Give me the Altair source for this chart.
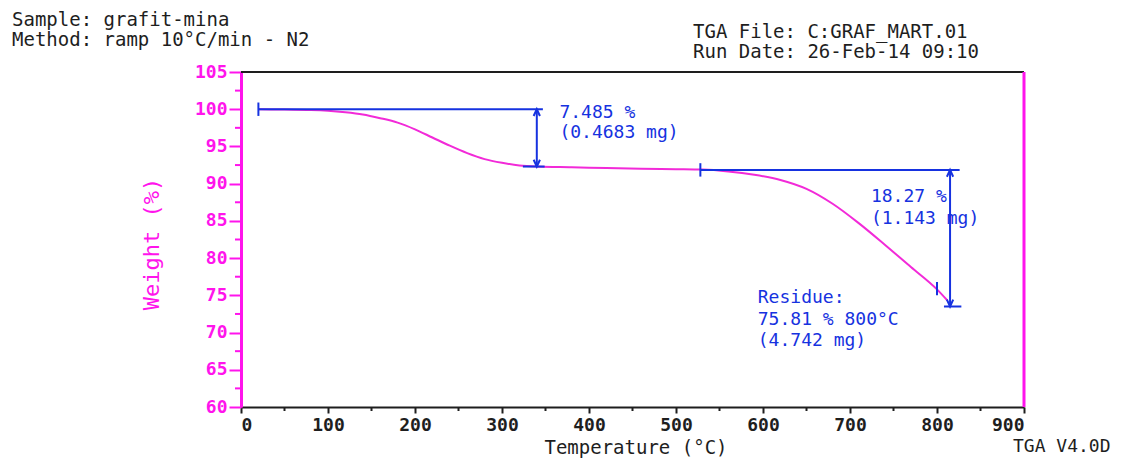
import altair as alt
import pandas as pd

# ---- data ----
temp_c = [20, 50, 80, 100, 120, 140, 160, 180, 200, 220, 240, 260, 280, 300, 320, 340,
          380, 420, 460, 500, 530, 560, 590, 620, 650, 680, 710, 740, 770, 800, 812]
weight_pct = [100.0, 99.95, 99.9, 99.8, 99.6, 99.3, 98.8, 98.2, 97.3, 96.2, 95.1, 94.1, 93.3, 92.8, 92.45, 92.3,
              92.2, 92.1, 92.0, 91.95, 91.9, 91.65, 91.2, 90.5, 89.3, 87.3, 84.7, 81.8, 78.8, 75.8, 74.3]

x_ticks = [0, 100, 200, 300, 400, 500, 600, 700, 800, 900]
y_ticks = [60, 65, 70, 75, 80, 85, 90, 95, 100, 105]
x_minor = [50, 150, 250, 350, 450, 550, 650, 750, 850]
y_minor = [62.5, 67.5, 72.5, 77.5, 82.5, 87.5, 92.5, 97.5, 102.5]

# step annotations
step_start = [20, 528]
step_arrow_t = [340, 815]
step_top = [100.0, 91.85]
step_bottom = [92.3, 73.5]
step_line_end = [347, 826]
step_bottom_from = [324, 808]
step_bottom_to = [349, 828]

ann_t = [366, 366, 724, 724, 594, 594, 594]
ann_w = [99.45, 96.8, 88.2, 85.3, 74.6, 71.7, 68.9]
ann_text = ["7.485 %", "(0.4683 mg)", "18.27 %", "(1.143 mg)", "Residue:", "75.81 % 800°C", "(4.742 mg)"]

MAG = "#ff14ec"
CURVE = "#f22ad8"
BLUE = "#1632e0"
INK = "#1e1e1e"
FONT = "DejaVu Sans Mono"

W, H = 783, 335

xs = alt.Scale(domain=[0, 900], nice=False, zero=False)
ys = alt.Scale(domain=[60, 105], nice=False, zero=False)
xaxis = alt.Axis(values=x_ticks, title=None, grid=False, labelFont=FONT, labelFontSize=18,
                 labelColor=INK, domainColor=INK, domainWidth=2, tickColor=INK, tickWidth=2,
                 tickSize=6, labelPadding=3, labelFontWeight="bold")
yaxis = alt.Axis(values=y_ticks, title=None, grid=False, labelFont=FONT, labelFontSize=18,
                 labelColor=MAG, domainColor=MAG, domainWidth=3, tickColor=MAG, tickWidth=2,
                 tickSize=12, labelPadding=2, labelFontWeight="bold")


def X(f):
    return alt.X(f, type="quantitative", scale=xs, axis=xaxis)


def Y(f):
    return alt.Y(f, type="quantitative", scale=ys, axis=yaxis)


curve_df = pd.DataFrame({"t": temp_c, "w": weight_pct})
curve = alt.Chart(curve_df).mark_line(color=CURVE, strokeWidth=2, interpolate="monotone").encode(
    x=X("t"), y=Y("w"))

# frame: top (black) and right (magenta)
top_df = pd.DataFrame({"t": [0], "t2": [900], "w": [105]})
top = alt.Chart(top_df).mark_rule(color=INK, strokeWidth=2).encode(x=X("t"), x2="t2", y=Y("w"))
right_df = pd.DataFrame({"t": [900], "w": [60], "w2": [105]})
right = alt.Chart(right_df).mark_rule(color=MAG, strokeWidth=3).encode(x=X("t"), y=Y("w"), y2="w2")

# minor ticks
yminor = alt.Chart(pd.DataFrame({"w": y_minor})).mark_rule(color=MAG, strokeWidth=2).encode(
    y=Y("w"), x=alt.value(-6), x2=alt.value(0))
xminor = alt.Chart(pd.DataFrame({"t": x_minor})).mark_rule(color=INK, strokeWidth=2).encode(
    x=X("t"), y=alt.value(H), y2=alt.value(H + 4))

# step annotation lines
steps = pd.DataFrame({
    "start": step_start, "arrow": step_arrow_t, "top": step_top, "bottom": step_bottom,
    "end": step_line_end, "bfrom": step_bottom_from, "bto": step_bottom_to,
})
steps["cap_lo"] = steps["top"] - 0.9
steps["cap_hi"] = steps["top"] + 0.9
hline = alt.Chart(steps).mark_rule(color=BLUE, strokeWidth=2).encode(x=X("start"), x2="end", y=Y("top"))
cap = alt.Chart(steps).mark_rule(color=BLUE, strokeWidth=2).encode(x=X("start"), y=Y("cap_lo"), y2="cap_hi")
vline = alt.Chart(steps).mark_rule(color=BLUE, strokeWidth=2).encode(x=X("arrow"), y=Y("top"), y2="bottom")
bline = alt.Chart(steps).mark_rule(color=BLUE, strokeWidth=2).encode(x=X("bfrom"), x2="bto", y=Y("bottom"))

UP = "M-0.6,1.3L0,0L0.6,1.3"
DOWN = "M-0.6,-1.3L0,0L0.6,-1.3"
heads = pd.DataFrame({
    "t": step_arrow_t + step_arrow_t,
    "w": step_top + step_bottom,
    "shape": [UP, UP, DOWN, DOWN],
})
arrows = alt.Chart(heads).mark_point(color=BLUE, filled=False, strokeWidth=2, size=110, opacity=1).encode(
    x=X("t"), y=Y("w"), shape=alt.Shape("shape:N", scale=None))

# 800 °C marker on the curve
mark_df = pd.DataFrame({"t": [800], "w": [75.0], "w2": [76.8]})
marker = alt.Chart(mark_df).mark_rule(color=BLUE, strokeWidth=2).encode(x=X("t"), y=Y("w"), y2="w2")

ann = alt.Chart(pd.DataFrame({"t": ann_t, "w": ann_w, "label": ann_text})).mark_text(
    align="left", baseline="middle", font=FONT, fontSize=18, color=BLUE).encode(
    x=X("t"), y=Y("w"), text="label:N")

# header / titles (pixel positions relative to the plot area)
hdr = pd.DataFrame({
    "label": ["Sample: grafit-mina", "Method: ramp 10°C/min - N2",
              "TGA File: C:GRAF_MART.01", "Run Date: 26-Feb-14 09:10"],
    "px": [-229, -229, 452, 452],
    "py": [-52, -32, -40, -20],
})
header = alt.Chart(hdr).mark_text(align="left", baseline="middle", font=FONT, fontSize=19,
                                  color=INK).encode(
    x=alt.X("px:Q", scale=None), y=alt.Y("py:Q", scale=None), text="label:N")

xtitle = alt.Chart(pd.DataFrame({"label": ["Temperature (°C)"]})).mark_text(
    align="center", baseline="middle", font=FONT, fontSize=19, color=INK).encode(
    x=alt.value(395), y=alt.value(376), text="label:N")
brand = alt.Chart(pd.DataFrame({"label": ["TGA V4.0D"]})).mark_text(
    align="left", baseline="middle", font=FONT, fontSize=18, color=INK).encode(
    x=alt.value(772), y=alt.value(375), text="label:N")
ytitle = alt.Chart(pd.DataFrame({"label": ["Weight (%)"]})).mark_text(
    align="center", baseline="middle", font=FONT, fontSize=22, color=MAG, angle=270).encode(
    x=alt.value(-89), y=alt.value(172), text="label:N")

chart = alt.layer(
    curve, top, right, yminor, xminor, hline, cap, vline, bline, arrows, marker, ann,
    header, xtitle, brand, ytitle,
).properties(
    width=W, height=H,
    autosize=alt.AutoSizeParams(type="none"),
    padding={"left": 241, "top": 72, "right": 112, "bottom": 52},
    background="white",
).configure_view(stroke=None)

chart.save("out.html", embed_options={"renderer": "svg", "actions": False})
